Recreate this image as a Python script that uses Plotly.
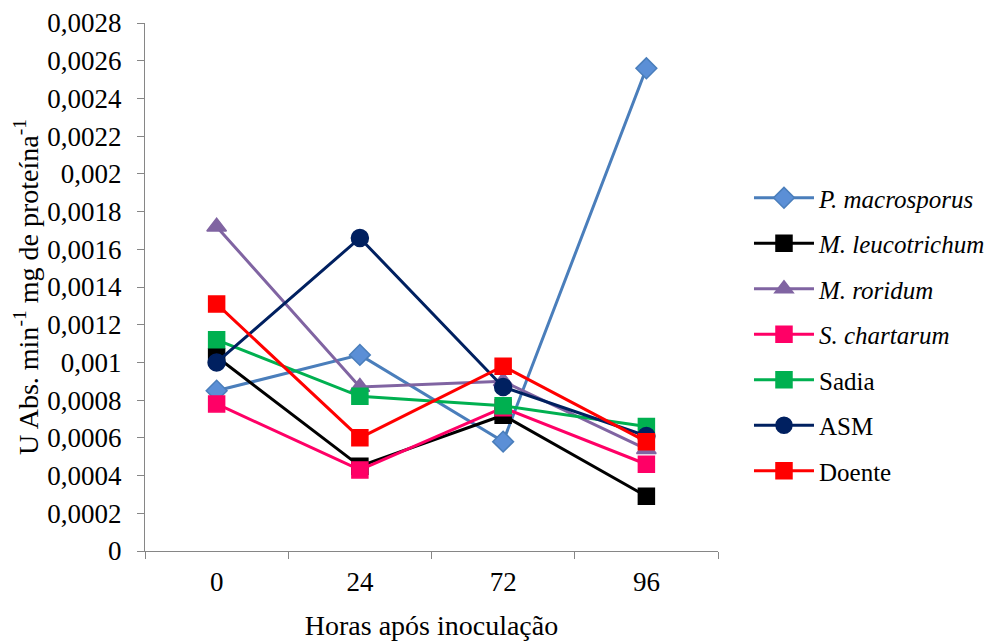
import plotly.graph_objects as go

# Sampling times (hours after inoculation)
hours = ["0", "24", "72", "96"]

# Enzyme activity per treatment
p_macrosporus = [0.00085, 0.00104, 0.00058, 0.00256]
m_leucotrichum = [0.00103, 0.00045, 0.00072, 0.00029]
m_roridum = [0.00172, 0.00087, 0.00090, 0.00054]
s_chartarum = [0.00078, 0.00043, 0.00076, 0.00046]
sadia = [0.00112, 0.00082, 0.00077, 0.00066]
asm = [0.00100, 0.00166, 0.00087, 0.00061]
doente = [0.00131, 0.00060, 0.00098, 0.00058]

y_ticks = [0, 0.0002, 0.0004, 0.0006, 0.0008, 0.001, 0.0012, 0.0014,
           0.0016, 0.0018, 0.002, 0.0022, 0.0024, 0.0026, 0.0028]
y_tick_text = ["0", "0,0002", "0,0004", "0,0006", "0,0008", "0,001", "0,0012",
               "0,0014", "0,0016", "0,0018", "0,002", "0,0022", "0,0024",
               "0,0026", "0,0028"]

series = [
    ("<i>P. macrosporus</i>", p_macrosporus, "#4A7EBB", "#5B8FD6", "diamond", 16),
    ("<i>M. leucotrichum</i>", m_leucotrichum, "#000000", "#000000", "square", 16),
    ("<i>M. roridum</i>", m_roridum, "#8064A2", "#8064A2", "triangle-up", 17),
    ("<i>S. chartarum</i>", s_chartarum, "#FF0066", "#FF0066", "square", 16),
    ("Sadia", sadia, "#00B050", "#00B050", "square", 16),
    ("ASM", asm, "#002060", "#002060", "circle", 17),
    ("Doente", doente, "#FF0000", "#FF0000", "square", 16),
]

fig = go.Figure()
for i, (name, vals, line_col, fill_col, symbol, size) in enumerate(series):
    fig.add_trace(go.Scatter(
        x=hours, y=vals, name=name, mode="lines+markers",
        legendgroup=f"g{i}",
        line=dict(color=line_col, width=3),
        marker=dict(symbol=symbol, size=size, color=fill_col,
                    line=dict(color=line_col, width=1.5)),
    ))

font_family = "Liberation Serif, Times New Roman, serif"

fig.update_layout(
    width=996, height=641,
    margin=dict(l=145, r=278, t=23, b=90),
    paper_bgcolor="white", plot_bgcolor="white",
    font=dict(family=font_family, size=26, color="#000000"),
    showlegend=True,
    legend=dict(
        xref="container", x=0.752, y=0.41, xanchor="left", yanchor="middle",
        font=dict(family=font_family, size=25, color="#000000"),
        tracegroupgap=10, itemwidth=60, borderwidth=0,
        bgcolor="rgba(0,0,0,0)",
    ),
    xaxis=dict(
        type="category", tickson="boundaries", range=[-0.5, 3.5],
        automargin=False,
        showline=True, linecolor="#868686", linewidth=1.2,
        ticks="outside", ticklen=7, tickcolor="#868686",
        showgrid=False, zeroline=False,
        tickfont=dict(family=font_family, size=27),
        ticklabelstandoff=6,
        title=dict(text="Horas após inoculação",
                   font=dict(family=font_family, size=28), standoff=20),
    ),
    yaxis=dict(
        range=[0, 0.0028],
        automargin=False,
        tickvals=y_ticks, ticktext=y_tick_text,
        showline=True, linecolor="#868686", linewidth=1.2,
        ticks="outside", ticklen=7, tickcolor="#868686",
        showgrid=False, zeroline=False,
        tickfont=dict(family=font_family, size=27),
        ticklabelstandoff=10,
        title=dict(text="U Abs. min<sup>-1</sup> mg de proteína<sup>-1</sup>",
                   font=dict(family=font_family, size=28), standoff=0),
    ),
)

fig.write_html("out.html")
